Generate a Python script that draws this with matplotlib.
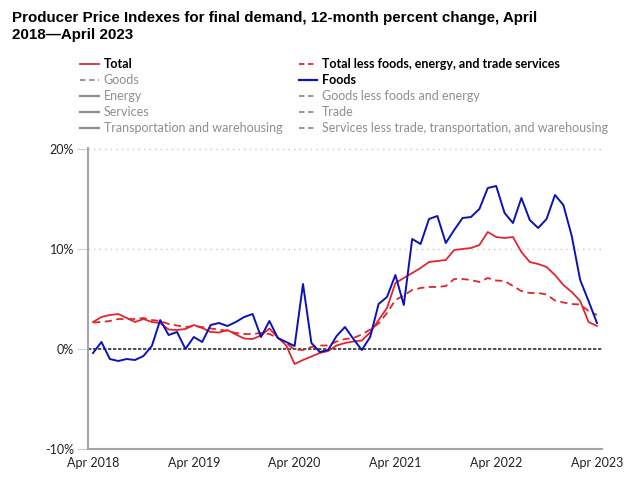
import numpy as np
import matplotlib
matplotlib.use("Agg")
import matplotlib.pyplot as plt
from matplotlib.lines import Line2D

# monthly, Apr 2018 .. Apr 2023
tick_labels = ["Apr 2018", "Apr 2019", "Apr 2020", "Apr 2021", "Apr 2022", "Apr 2023"]

total = [2.7, 3.2, 3.4, 3.5, 3.1, 2.7, 3.0, 2.7, 2.6, 1.95, 1.9, 2.0,
         2.4, 2.1, 1.7, 1.65, 1.9, 1.45, 1.05, 1.0, 1.35, 2.05, 1.15, 0.35,
         -1.5, -1.1, -0.75, -0.4, -0.2, 0.35, 0.6, 0.75, 0.85, 1.65, 2.9, 4.1,
         6.6, 7.1, 7.6, 8.1, 8.7, 8.8, 8.9, 9.9, 10.0, 10.1, 10.4, 11.7,
         11.2, 11.1, 11.2, 9.7, 8.7, 8.5, 8.2, 7.4, 6.4, 5.7, 4.8, 2.7,
         2.3]

total_less = [2.65, 2.7, 2.8, 3.0, 3.0, 3.0, 3.1, 2.9, 2.8, 2.5, 2.35, 2.2,
              2.3, 2.2, 2.05, 1.95, 1.8, 1.6, 1.5, 1.5, 1.6, 1.5, 1.1, 0.6,
              -0.05, -0.1, 0.2, 0.35, 0.35, 0.75, 1.0, 1.1, 1.45, 1.95, 2.55, 3.6,
              4.9, 5.35, 5.9, 6.1, 6.2, 6.2, 6.3, 7.0, 7.0, 6.9, 6.7, 7.1,
              6.85, 6.8, 6.3, 5.8, 5.6, 5.6, 5.45, 4.85, 4.65, 4.5, 4.45, 3.8,
              3.4]

foods = [-0.4, 0.7, -1.0, -1.2, -1.0, -1.1, -0.7, 0.3, 2.9, 1.4, 1.7, 0.0,
         1.2, 0.7, 2.4, 2.6, 2.3, 2.7, 3.2, 3.5, 1.2, 2.8, 1.1, 0.7,
         0.3, 6.5, 0.6, -0.3, -0.1, 1.3, 2.2, 1.0, -0.1, 1.2, 4.5, 5.2,
         7.4, 4.4, 11.0, 10.5, 13.0, 13.3, 10.6, 11.9, 13.1, 13.2, 14.0, 16.1,
         16.3, 13.6, 12.6, 15.1, 12.9, 12.1, 13.0, 15.4, 14.4, 11.3, 6.9, 4.8,
         2.6]

RED = "#e0262e"
BLUE = "#0c12b4"
GREY = "#8e8e8e"

plt.rcParams["font.family"] = ["Lato", "DejaVu Sans"]

fig = plt.figure(figsize=(6.4, 4.84), dpi=100)
ax = fig.add_axes([88 / 640, 1 - 449 / 484, (602 - 88) / 640, (449 - 148) / 484])

x = np.arange(len(total))
ax.plot(x, total, color=RED, lw=1.3)
ax.plot(x, total_less, color=RED, lw=1.3, ls=(0, (4, 2.5)))
ax.plot(x, foods, color=BLUE, lw=1.4)

ax.axhline(0, color="#333333", lw=1.2, ls=(0, (2, 1)), zorder=1)
for yv in [10, 20]:
    ax.axhline(yv, color="#c8c8c8", lw=1, ls=(0, (1, 3)), zorder=0)

ax.set_xlim(-0.6, 60.6)
ax.set_ylim(-10, 20.1)
ax.set_yticks([-10, 0, 10, 20])
ax.set_yticklabels(["-10%", "0%", "10%", "20%"])
ax.set_xticks(np.arange(0, 61, 12))
ax.set_xticklabels(tick_labels)
ax.tick_params(axis="y", length=8, color="#c5cede", labelsize=9, labelcolor="#222222", pad=2)
ax.tick_params(axis="x", length=0, labelsize=9, labelcolor="#222222", pad=6)

for s in ["top", "right"]:
    ax.spines[s].set_visible(False)
ax.spines["left"].set_color("#a6a6a6")
ax.spines["bottom"].set_color("#a6a6a6")
ax.spines["left"].set_linewidth(1.5)
ax.spines["bottom"].set_linewidth(1.5)

fig.text(12 / 640, 1 - 11 / 484,
         "Producer Price Indexes for final demand, 12-month percent change, April\n2018\u2014April 2023",
         fontsize=10.9, fontweight="bold", family=["Liberation Sans", "DejaVu Sans"],
         va="top", ha="left", linespacing=1.25)

handles = [
    Line2D([], [], color=RED, lw=1.3),
    Line2D([], [], color=GREY, lw=1.3, ls=(0, (3, 2))),
    Line2D([], [], color=GREY, lw=1.6),
    Line2D([], [], color=GREY, lw=1.6),
    Line2D([], [], color=GREY, lw=1.6),
    Line2D([], [], color=RED, lw=1.3, ls=(0, (3, 2))),
    Line2D([], [], color=BLUE, lw=1.6),
    Line2D([], [], color=GREY, lw=1.3, ls=(0, (3, 2))),
    Line2D([], [], color=GREY, lw=1.3, ls=(0, (3, 2))),
    Line2D([], [], color=GREY, lw=1.3, ls=(0, (3, 2))),
]
labels = ["Total", "Goods", "Energy", "Services", "Transportation and warehousing",
          "Total less foods, energy, and trade services", "Foods",
          "Goods less foods and energy", "Trade",
          "Services less trade, transportation, and warehousing"]
active = {"Total", "Total less foods, energy, and trade services", "Foods"}

leg = fig.legend(handles, labels, loc="upper left", bbox_to_anchor=(80 / 640, 1 - 58 / 484),
                 ncol=2, frameon=False, fontsize=9, handlelength=1.5, handletextpad=0.4,
                 columnspacing=1.3, labelspacing=0.33, borderaxespad=0, borderpad=0)
for t in leg.get_texts():
    if t.get_text() in active:
        t.set_color("black")
        t.set_fontweight("bold")
    else:
        t.set_color(GREY)

fig.savefig("out.png", dpi=100)
